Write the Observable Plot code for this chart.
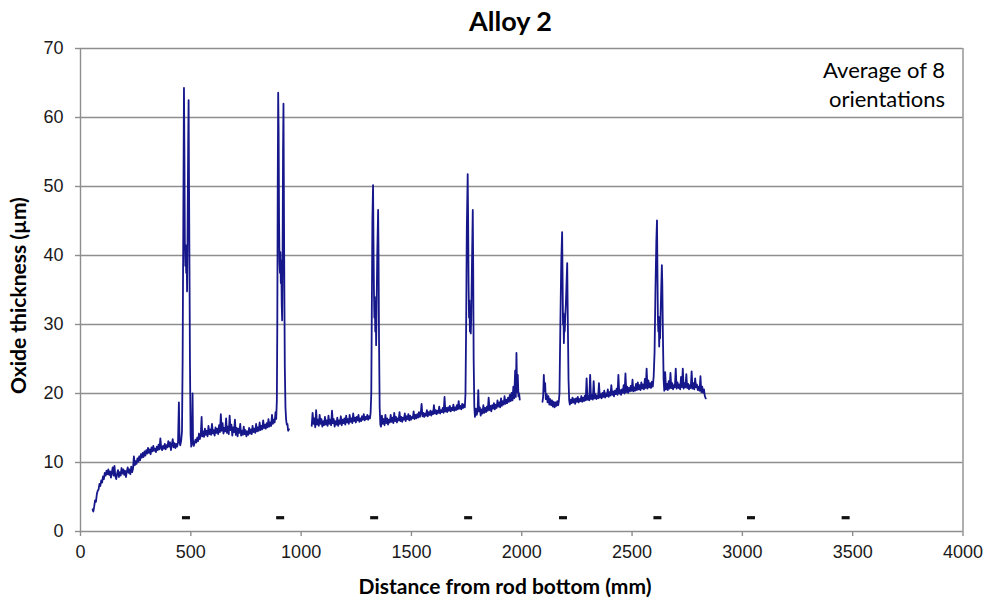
<!DOCTYPE html>
<html>
<head>
<meta charset="utf-8">
<script src="https://cdn.jsdelivr.net/npm/d3@7"></script>
<script src="https://cdn.jsdelivr.net/npm/@observablehq/plot@0.6"></script>
<style>
  html, body { margin: 0; padding: 0; background: #fff; }
  #chart { width: 987px; height: 602px; }
</style>
</head>
<body>
<div id="chart"></div>
<script>
const titleText = "Alloy 2";
const xLabel = "Distance from rod bottom (mm)";
const yLabel = "Oxide thickness (\u00b5m)";
const noteLines = ["Average of 8", "orientations"];

const xTicks = [0, 500, 1000, 1500, 2000, 2500, 3000, 3500, 4000];
const yTicks = [0, 10, 20, 30, 40, 50, 60, 70];

// spacer grid positions (short black dashes)
const spacerX = [478, 905, 1331, 1757, 2187, 2615, 3039, 3468];
const spacerY = 2;

// Trace segment 1 (distance mm, oxide µm)
const segment1 = [[55,3.2],[58,2.9],[62,3.6],[66,4.5],[70,4.3],[74,5.4],[78,5.9],[82,6.1],[86,6.9],[90,6.6],[94,7.4],[98,7.1],[102,8.0],[106,7.6],[110,8.5],[114,8.1],[118,8.8],[122,8.3],[126,9.0],[130,8.2],[134,8.7],[138,7.8],[142,8.6],[146,9.3],[150,8.1],[154,9.5],[158,8.0],[162,7.6],[166,8.4],[170,8.9],[174,7.9],[178,8.6],[182,8.1],[186,9.2],[190,8.4],[194,9.0],[198,8.2],[202,8.8],[206,7.9],[210,8.7],[214,9.3],[218,8.5],[222,9.0],[226,8.3],[230,9.4],[234,8.6],[238,9.1],[242,10.9],[246,9.6],[250,10.2],[254,9.8],[258,10.6],[262,10.1],[266,10.9],[270,10.3],[274,11.2],[278,10.7],[282,11.4],[286,10.8],[290,11.6],[294,11.0],[298,11.8],[302,11.3],[306,12.1],[310,11.4],[314,11.9],[318,11.2],[322,12.2],[326,11.6],[330,12.4],[334,11.7],[338,12.0],[342,11.5],[346,12.3],[350,11.8],[354,12.6],[358,11.9],[362,13.5],[366,12.1],[370,11.8],[374,12.4],[378,12.0],[382,12.7],[386,11.9],[390,12.5],[394,12.2],[398,13.1],[402,12.3],[406,12.9],[410,11.8],[414,12.6],[418,13.4],[422,12.2],[426,12.8],[430,12.1],[434,12.7],[438,12.3],[442,12.9],[446,18.7],[449,13.0],[452,12.5],[456,13.1],[460,14.5],[463,25],[466,45],[469,64.3],[471,55],[473,42],[475,38.5],[477,41.5],[479,37.5],[481,40.8],[483,34.8],[485,42],[488,56],[490,62.5],[492,50],[494,38],[496,25],[499,14],[502,12.3],[505,12.9],[508,20],[510,13.2],[513,12.4],[517,12.8],[521,13.3],[525,12.9],[529,13.6],[533,13.1],[537,14.2],[541,13.4],[545,13.9],[549,16.6],[552,13.8],[556,14.5],[560,13.7],[564,14.9],[568,14.0],[572,14.6],[576,13.8],[580,15.3],[584,14.1],[588,14.8],[592,14.0],[596,15.6],[600,14.2],[604,14.7],[608,13.9],[612,15.1],[616,14.3],[620,14.9],[624,14.1],[628,15.4],[632,14.4],[636,17.0],[640,14.6],[644,15.7],[648,14.2],[652,15.0],[656,14.5],[660,16.4],[664,14.3],[668,15.2],[672,14.1],[676,16.8],[680,14.7],[684,15.5],[688,13.9],[692,15.1],[696,14.4],[700,16.2],[704,14.0],[708,15.0],[712,13.8],[716,14.9],[720,14.3],[724,15.6],[728,13.9],[732,14.6],[736,14.0],[740,15.2],[744,14.1],[748,14.7],[752,13.8],[756,14.5],[760,14.0],[764,15.0],[768,14.2],[772,14.8],[776,14.1],[780,15.3],[784,14.4],[788,14.9],[792,14.3],[796,15.6],[800,14.5],[804,15.1],[808,14.6],[812,15.8],[816,14.7],[820,15.3],[824,14.8],[828,16.1],[832,15.0],[836,15.5],[840,14.9],[844,15.7],[848,15.1],[852,16.3],[856,15.2],[860,15.8],[864,15.3],[868,16.9],[872,15.6],[876,16.2],[880,15.8],[884,17.3],[887,16.3],[890,19],[892,30],[894,50],[896,63.6],[898,58],[900,45],[902,39],[904,37.5],[906,40.5],[908,36],[910,39.3],[912,33],[914,30.6],[916,40],[918,55],[920,62.0],[922,48],[924,35],[926,24],[929,18],[932,16.2],[935,15.5],[938,15.6],[941,14.6],[945,14.8]];

// Trace segment 2
const segment2 = [[1048,15.3],[1052,17.2],[1056,15.6],[1060,16.4],[1064,15.1],[1068,17.6],[1072,15.5],[1076,16.2],[1080,15.3],[1084,16.9],[1088,15.6],[1092,16.3],[1096,15.2],[1100,16.0],[1104,15.4],[1108,16.6],[1112,15.5],[1116,16.1],[1120,15.3],[1124,16.8],[1128,15.6],[1132,16.2],[1136,15.4],[1140,17.5],[1144,15.7],[1148,16.3],[1152,15.2],[1156,16.0],[1160,15.5],[1164,16.5],[1168,15.3],[1172,16.1],[1176,15.6],[1180,16.7],[1184,15.4],[1188,16.2],[1192,15.7],[1196,16.4],[1200,15.5],[1204,16.8],[1208,15.8],[1212,16.3],[1216,15.6],[1220,16.9],[1224,15.9],[1228,16.4],[1232,15.7],[1236,17.1],[1240,16.0],[1244,16.5],[1248,15.8],[1252,16.6],[1256,16.1],[1260,16.9],[1264,15.9],[1268,16.4],[1272,16.0],[1276,16.7],[1280,16.2],[1284,17.0],[1288,16.1],[1292,16.6],[1296,16.3],[1300,16.9],[1304,16.2],[1308,16.7],[1312,16.4],[1315,17.2],[1318,20],[1320,30],[1323,45],[1326,50.2],[1328,42],[1330,35],[1332,31],[1334,34],[1336,29],[1338,33],[1340,27],[1342,32],[1345,40],[1349,46.6],[1351,40],[1353,28],[1356,18],[1359,15.5],[1362,15.2],[1366,16.8],[1370,15.6],[1374,16.3],[1378,15.4],[1382,16.9],[1386,15.7],[1390,16.4],[1394,15.5],[1398,16.2],[1402,15.8],[1406,16.9],[1410,15.9],[1414,16.5],[1418,15.7],[1422,17.2],[1426,16.0],[1430,16.6],[1434,15.8],[1438,16.4],[1442,16.1],[1446,17.3],[1450,16.0],[1454,16.6],[1458,15.9],[1462,16.5],[1466,16.2],[1470,17.1],[1474,16.0],[1478,16.7],[1482,16.3],[1486,17.0],[1490,16.1],[1494,16.8],[1498,16.2],[1502,16.6],[1506,16.4],[1510,17.4],[1514,16.3],[1518,16.9],[1522,16.4],[1526,17.0],[1530,16.5],[1534,17.3],[1538,16.6],[1542,17.1],[1546,18.5],[1550,16.7],[1554,17.2],[1558,16.6],[1562,17.1],[1566,16.8],[1570,17.6],[1574,16.7],[1578,17.3],[1582,16.9],[1586,17.5],[1590,16.8],[1594,17.4],[1598,17.0],[1602,18.3],[1606,17.1],[1610,17.6],[1614,17.0],[1618,17.5],[1622,17.2],[1626,18.1],[1630,17.1],[1634,17.6],[1638,17.3],[1642,17.9],[1646,17.2],[1650,19.5],[1654,17.4],[1658,17.9],[1662,17.3],[1666,18.0],[1670,17.5],[1674,18.2],[1678,17.4],[1682,17.9],[1686,17.6],[1690,18.4],[1694,17.5],[1698,18.0],[1702,17.6],[1706,18.3],[1710,17.7],[1714,18.9],[1718,17.8],[1722,18.2],[1726,17.7],[1730,18.5],[1734,17.9],[1738,18.4],[1742,18.0],[1745,20],[1748,30],[1751,44],[1755,51.8],[1757,45],[1759,36],[1761,31],[1763,33.5],[1765,29],[1767,32.5],[1769,28.7],[1771,31],[1774,38],[1778,46.6],[1780,38],[1782,25],[1785,18],[1788,16.6],[1792,17.8],[1796,16.9],[1800,17.6],[1803,20.5],[1806,17.4],[1810,18.0],[1814,16.8],[1818,17.7],[1822,17.1],[1826,18.3],[1830,17.2],[1834,17.9],[1838,17.3],[1842,18.1],[1846,17.5],[1850,19.4],[1854,17.6],[1858,18.2],[1862,17.4],[1866,18.3],[1870,17.8],[1874,18.6],[1878,17.7],[1882,18.4],[1886,17.9],[1890,19.0],[1894,18.1],[1898,18.7],[1902,18.0],[1906,19.3],[1910,18.2],[1914,18.9],[1918,18.4],[1922,19.6],[1926,18.5],[1930,19.1],[1934,18.6],[1938,19.4],[1942,18.8],[1946,19.8],[1950,18.9],[1954,20.1],[1958,19.0],[1962,21.0],[1966,19.3],[1970,23.3],[1973,19.5],[1976,25.9],[1979,20.2],[1982,22.7],[1985,19.6],[1988,20.0],[1991,19.1]];

// Trace segment 3
const segment3 = [[2094,18.8],[2097,19.5],[2100,22.7],[2103,20.3],[2106,21.5],[2109,19.2],[2113,19.9],[2117,18.7],[2121,19.6],[2125,18.4],[2129,19.2],[2133,18.3],[2137,19.0],[2141,18.1],[2145,18.8],[2149,18.0],[2153,18.7],[2157,18.2],[2161,18.9],[2165,18.3],[2168,18.8],[2171,20],[2175,30],[2179,39],[2183,43.4],[2185,37],[2187,30],[2189,31.6],[2191,27.3],[2193,30.5],[2195,29],[2197,31],[2200,33],[2203,36],[2206,38.9],[2209,30],[2212,22],[2215,19],[2218,18.4],[2222,19.1],[2226,18.6],[2230,19.4],[2234,18.7],[2238,19.2],[2242,18.5],[2246,19.3],[2250,18.8],[2254,19.5],[2258,18.7],[2262,19.2],[2266,18.9],[2270,19.6],[2274,18.8],[2278,19.4],[2282,18.9],[2286,19.7],[2290,19.0],[2294,22.2],[2298,19.1],[2302,19.6],[2306,19.0],[2310,22.7],[2314,19.2],[2318,19.8],[2322,19.1],[2326,21.8],[2330,19.3],[2334,19.9],[2338,19.2],[2342,19.7],[2346,19.3],[2350,21.5],[2354,19.4],[2358,19.9],[2362,19.3],[2366,20.1],[2370,19.5],[2374,20.4],[2378,19.4],[2382,20.0],[2386,19.6],[2390,20.6],[2394,19.5],[2398,20.2],[2402,19.7],[2406,21.2],[2410,19.8],[2414,20.3],[2418,19.6],[2422,20.4],[2426,19.9],[2430,20.7],[2434,19.8],[2438,22.7],[2442,20.0],[2446,20.5],[2450,19.8],[2454,20.6],[2458,20.1],[2462,21.2],[2466,20.0],[2470,22.9],[2474,20.2],[2478,21.0],[2482,20.1],[2486,20.8],[2490,20.3],[2494,21.1],[2498,20.4],[2502,22.0],[2506,20.3],[2510,20.9],[2514,20.4],[2518,21.4],[2522,20.5],[2526,21.6],[2530,20.6],[2534,21.2],[2538,20.5],[2542,21.6],[2546,20.7],[2550,21.3],[2554,20.6],[2558,22.1],[2562,20.8],[2566,23.6],[2570,20.7],[2574,21.9],[2578,20.9],[2582,21.5],[2586,20.8],[2590,21.7],[2594,21.0],[2598,22.5],[2602,26],[2606,35],[2610,42],[2613,45.1],[2615,38],[2617,31],[2619,29],[2621,31.1],[2623,26.8],[2625,30],[2627,28],[2629,31],[2632,35],[2635,38.6],[2637,36],[2640,28],[2643,22],[2646,20.4],[2650,23.1],[2654,20.6],[2658,21.4],[2662,20.5],[2666,21.8],[2670,20.7],[2674,23.0],[2678,20.8],[2682,21.5],[2686,20.6],[2690,21.2],[2694,20.9],[2698,23.6],[2702,20.7],[2706,21.6],[2710,20.8],[2714,21.3],[2718,20.6],[2722,22.4],[2726,20.9],[2730,23.6],[2734,20.7],[2738,21.5],[2742,20.9],[2746,22.8],[2750,20.8],[2754,21.4],[2758,20.6],[2762,21.2],[2766,20.8],[2770,23.2],[2774,20.7],[2778,21.5],[2782,20.6],[2786,22.2],[2790,20.9],[2794,21.3],[2798,20.5],[2802,21.0],[2806,20.4],[2810,22.5],[2814,20.2],[2818,21.0],[2822,20.1],[2826,20.6],[2830,19.6],[2834,19.3]];

const lineColor = "#17178c";
const gridColor = "#8e8e8e";

const dashSymbol = {
  draw(context) {
    context.rect(-4, -1.6, 8, 3.2);
  }
};

const lineOpts = {x: d => d[0], y: d => d[1], stroke: lineColor, strokeWidth: 1.8, curve: "linear"};

const chart = Plot.plot({
  width: 987,
  height: 602,
  marginLeft: 80,
  marginRight: 24.5,
  marginTop: 48,
  marginBottom: 71,
  style: {fontFamily: "'Liberation Sans', Arial, sans-serif", fontSize: "18px", color: "#1a1a1a", background: "#fff"},
  x: {type: "linear", domain: [0, 4000]},
  y: {type: "linear", domain: [0, 70]},
  marks: [
    Plot.gridY(yTicks, {stroke: gridColor, strokeOpacity: 1, strokeWidth: 1.4}),
    Plot.ruleX([0, 4000], {stroke: gridColor, strokeWidth: 1.4}),
    Plot.axisX(xTicks, {tickSize: 5, tickPadding: 9, stroke: gridColor, strokeWidth: 1.4, label: null, tickFormat: d => String(d)}),
    Plot.axisY(yTicks, {tickSize: 5, tickPadding: 12, stroke: gridColor, strokeWidth: 1.4, label: null, tickFormat: d => String(d)}),
    Plot.line(segment1, lineOpts),
    Plot.line(segment2, lineOpts),
    Plot.line(segment3, lineOpts),
    Plot.dot(spacerX, {x: d => d, y: () => spacerY, symbol: dashSymbol, fill: "#111", stroke: "none", r: 4})
  ]
});

document.getElementById("chart").appendChild(chart);

const svg = d3.select(chart);
const fontLabel = "Lato, 'Open Sans', sans-serif";

svg.append("text")
  .attr("x", 510.5).attr("y", 31)
  .attr("text-anchor", "middle")
  .attr("font-family", fontLabel).attr("font-weight", "bold").attr("font-size", 27)
  .attr("fill", "#000")
  .text(titleText);

svg.append("text")
  .attr("x", 505).attr("y", 594)
  .attr("text-anchor", "middle")
  .attr("font-family", fontLabel).attr("font-weight", "bold").attr("font-size", 21)
  .attr("fill", "#000")
  .text(xLabel);

svg.append("text")
  .attr("transform", "translate(25.5,295.5) rotate(-90)")
  .attr("text-anchor", "middle")
  .attr("font-family", fontLabel).attr("font-weight", "bold").attr("font-size", 21)
  .attr("fill", "#000")
  .text(yLabel);

const note = svg.append("text")
  .attr("text-anchor", "end")
  .attr("font-family", fontLabel).attr("font-size", 22)
  .attr("fill", "#000");
note.append("tspan").attr("x", 945).attr("y", 78).text(noteLines[0]);
note.append("tspan").attr("x", 945).attr("y", 107).text(noteLines[1]);
</script>
</body>
</html>
